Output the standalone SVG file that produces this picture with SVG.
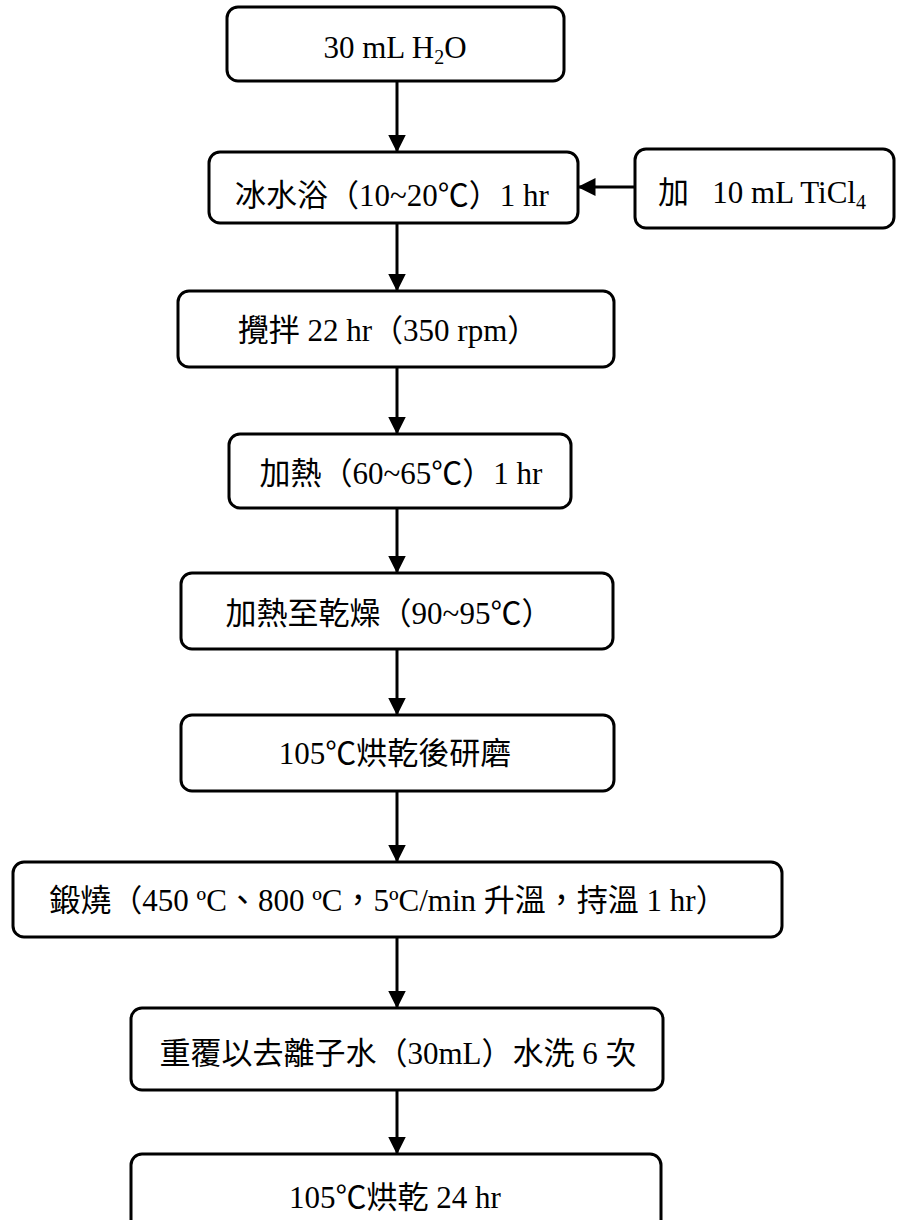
<svg xmlns="http://www.w3.org/2000/svg" width="897" height="1220" viewBox="0 0 897 1220">
<style>
.box{fill:#fff;stroke:#000;stroke-width:3}
.t{font-family:"Liberation Serif","Noto Sans CJK TC",serif;font-size:31px;fill:#000;text-anchor:middle}
.ln{stroke:#000;stroke-width:3;fill:none}
</style>
<defs>
<marker id="ah" markerWidth="6" markerHeight="6" refX="5.5" refY="3" orient="auto" markerUnits="strokeWidth" viewBox="0 0 6 6">
<path d="M0,0 L6,3 L0,6 Z" fill="#000"/>
</marker>
</defs>
<g id="connectors">
<line class="ln" x1="397" y1="81" x2="397" y2="151" marker-end="url(#ah)"/>
<line class="ln" x1="635" y1="187" x2="579" y2="187" marker-end="url(#ah)"/>
<line class="ln" x1="397" y1="223" x2="397" y2="290" marker-end="url(#ah)"/>
<line class="ln" x1="397" y1="367" x2="397" y2="433" marker-end="url(#ah)"/>
<line class="ln" x1="397" y1="508" x2="397" y2="572" marker-end="url(#ah)"/>
<line class="ln" x1="397" y1="649" x2="397" y2="714" marker-end="url(#ah)"/>
<line class="ln" x1="397" y1="791" x2="397" y2="861" marker-end="url(#ah)"/>
<line class="ln" x1="397" y1="937" x2="397" y2="1007" marker-end="url(#ah)"/>
<line class="ln" x1="397" y1="1090" x2="397" y2="1153" marker-end="url(#ah)"/>
</g>
<g id="n1"><rect class="box" x="227" y="7" width="337" height="74" rx="11"/>
<text class="t" x="395" y="58">30 mL H<tspan font-size="20" dy="6">2</tspan><tspan dy="-6">O</tspan></text></g>
<g id="n2"><rect class="box" x="209" y="152" width="369" height="71" rx="11"/>
<text class="t" x="392" y="206">冰水浴（10~20℃）1 hr</text></g>
<g id="n3"><rect class="box" x="635" y="149" width="259" height="79" rx="11"/>
<text class="t" x="762" y="203">加&#160;&#160; 10 mL TiCl<tspan font-size="20" dy="6">4</tspan></text></g>
<g id="n4"><rect class="box" x="178" y="291" width="436" height="76" rx="11"/>
<text class="t" x="388" y="341">攪拌 22 hr（350 rpm）</text></g>
<g id="n5"><rect class="box" x="229" y="434" width="342" height="74" rx="11"/>
<text class="t" x="401" y="484">加熱（60~65℃）1 hr</text></g>
<g id="n6"><rect class="box" x="181" y="573" width="432" height="76" rx="11"/>
<text class="t" x="389" y="624">加熱至乾燥（90~95℃）</text></g>
<g id="n7"><rect class="box" x="181" y="715" width="433" height="76" rx="11"/>
<text class="t" x="395" y="764">105℃烘乾後研磨</text></g>
<g id="n8"><rect class="box" x="13" y="862" width="769" height="75" rx="11"/>
<text class="t" x="388" y="911">鍛燒（450 ºC、800 ºC，5ºC/min 升溫，持溫 1 hr）</text></g>
<g id="n9"><rect class="box" x="131" y="1008" width="532" height="82" rx="11"/>
<text class="t" x="398" y="1064">重覆以去離子水（30mL）水洗 6 次</text></g>
<g id="n10"><rect class="box" x="131" y="1154" width="530" height="80" rx="11"/>
<text class="t" x="395" y="1208">105℃烘乾 24 hr</text></g>
</svg>
